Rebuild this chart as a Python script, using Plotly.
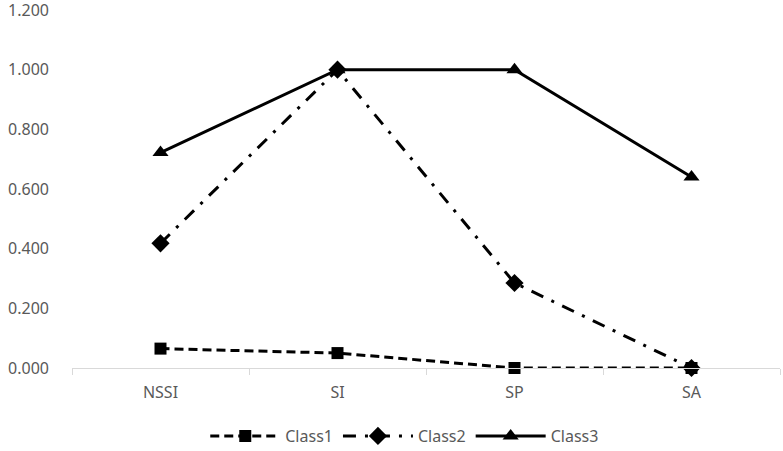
import plotly.graph_objects as go

categories = ["NSSI", "SI", "SP", "SA"]
class1 = [0.065, 0.050, 0.000, 0.000]
class2 = [0.418, 1.000, 0.285, 0.000]
class3 = [0.722, 1.000, 1.000, 0.640]
y_ticks = [0.0, 0.2, 0.4, 0.6, 0.8, 1.0, 1.2]

fig = go.Figure()
fig.add_trace(go.Scatter(x=categories, y=class3, name="Class3", mode="lines+markers",
                         line=dict(color="black", width=3), cliponaxis=False, legendrank=3,
                         marker=dict(symbol="triangle-up", size=14, color="black")))
fig.add_trace(go.Scatter(x=categories, y=class2, name="Class2", mode="lines+markers",
                         line=dict(color="black", width=3, dash="13px,9px,3px,9px"), cliponaxis=False,
                         legendrank=2,
                         marker=dict(symbol="diamond", size=14, color="black")))
fig.add_trace(go.Scatter(x=categories, y=class1, name="Class1", mode="lines+markers",
                         line=dict(color="black", width=3, dash="9px,5px"), cliponaxis=False,
                         legendrank=1,
                         marker=dict(symbol="square", size=12, color="black")))

font = dict(family="Noto Sans, Open Sans, sans-serif", size=16, color="#595959")
fig.update_layout(
    width=783, height=451,
    margin=dict(l=72, r=3, t=10, b=83, autoexpand=False),
    paper_bgcolor="white", plot_bgcolor="white",
    font=font,
    showlegend=True,
    legend=dict(orientation="h", x=0.47, xanchor="center", y=-0.19, yanchor="middle",
                font=font, itemwidth=70, tracegroupgap=0, traceorder="normal"),
    xaxis=dict(type="category", range=[-0.5, 3.5], showline=True, linecolor="#d9d9d9",
               linewidth=1, ticks="outside", tickson="boundaries", ticklen=6,
               tickcolor="#d9d9d9", showgrid=False, zeroline=False, ticklabelstandoff=10),
    yaxis=dict(range=[0, 1.2001], tickvals=y_ticks, tickformat=".3f", showgrid=False,
               zeroline=False, showline=False, ticks="", ticklabelstandoff=22,
               ticklabeloverflow="allow"),
)

fig.write_html("out.html")
